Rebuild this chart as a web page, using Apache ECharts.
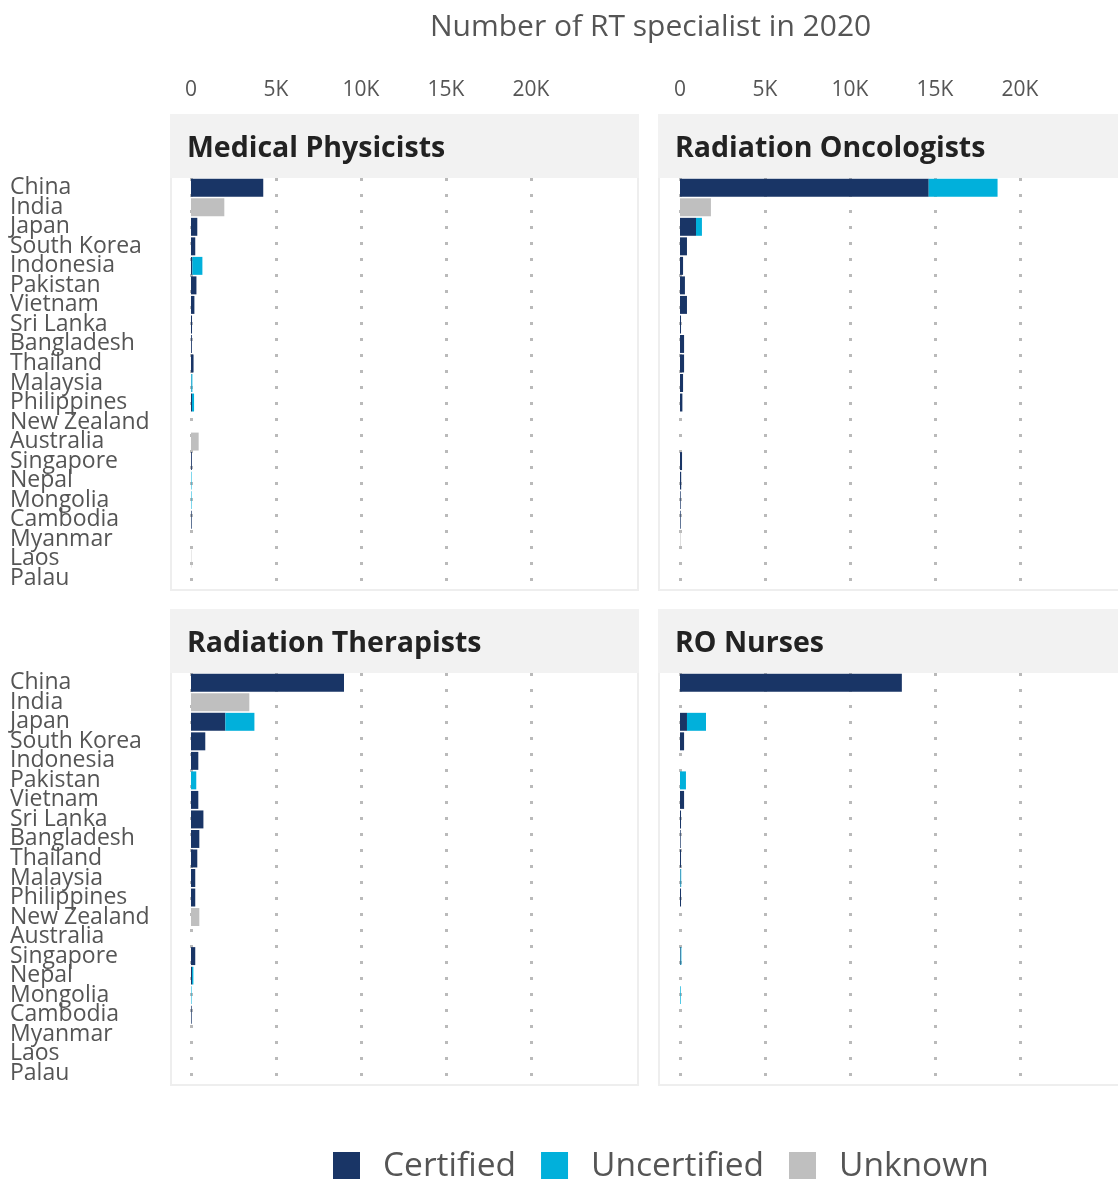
<!DOCTYPE html>
<html>
<head>
<meta charset="utf-8">
<script src="https://cdn.jsdelivr.net/npm/echarts@6/dist/echarts.min.js"></script>
<style>
  html, body { margin: 0; padding: 0; background: #fff; }
  #chart { width: 1118px; height: 1179px; }
</style>
</head>
<body>
<div id="chart"></div>
<script>
const countries = ['China', 'India', 'Japan', 'South Korea', 'Indonesia', 'Pakistan', 'Vietnam', 'Sri Lanka',
  'Bangladesh', 'Thailand', 'Malaysia', 'Philippines', 'New Zealand', 'Australia', 'Singapore', 'Nepal',
  'Mongolia', 'Cambodia', 'Myanmar', 'Laos', 'Palau']

const xTicks = [0, 5000, 10000, 15000, 20000]

// Medical Physicists
const mpCertified = [4250, 0, 370, 250, 80, 320, 200, 60, 50, 150, 20, 60, 0, 0, 50, 0, 0, 40, 0, 0, 0]
const mpUncertified = [0, 0, 0, 0, 590, 0, 0, 0, 0, 0, 60, 120, 0, 0, 0, 30, 30, 0, 0, 0, 0]
const mpUnknown = [0, 1960, 0, 0, 0, 0, 0, 0, 0, 0, 0, 0, 0, 450, 0, 0, 0, 0, 0, 20, 0]

// Radiation Oncologists
const roCertified = [14630, 0, 940, 410, 180, 290, 410, 60, 240, 240, 180, 140, 0, 0, 120, 70, 40, 40, 0, 0, 0]
const roUncertified = [4050, 0, 350, 0, 0, 0, 0, 0, 0, 0, 0, 0, 0, 0, 0, 0, 0, 0, 0, 0, 0]
const roUnknown = [0, 1820, 0, 0, 0, 0, 0, 0, 0, 0, 0, 0, 0, 0, 0, 0, 0, 0, 30, 0, 0]

// Radiation Therapists
const rtCertified = [9000, 0, 2020, 840, 430, 0, 430, 730, 490, 370, 250, 250, 0, 0, 250, 60, 0, 40, 0, 0, 0]
const rtUncertified = [0, 0, 1710, 0, 0, 310, 0, 0, 0, 0, 0, 0, 0, 0, 0, 80, 30, 0, 0, 0, 0]
const rtUnknown = [0, 3430, 0, 0, 0, 0, 0, 0, 0, 0, 0, 0, 490, 0, 0, 0, 0, 0, 0, 0, 0]

// RO Nurses
const rnCertified = [13050, 0, 410, 240, 0, 0, 240, 60, 40, 60, 30, 60, 0, 0, 40, 0, 0, 0, 0, 0, 0]
const rnUncertified = [0, 0, 1120, 0, 0, 350, 0, 0, 0, 0, 40, 0, 0, 0, 40, 0, 40, 0, 0, 0, 0]
const rnUnknown = [0, 0, 0, 0, 0, 0, 0, 0, 0, 0, 0, 0, 0, 0, 0, 0, 0, 0, 0, 0, 0]

const panels = [
  { title: 'Medical Physicists', stack: 'mp', data: [mpCertified, mpUncertified, mpUnknown] },
  { title: 'Radiation Oncologists', stack: 'ro', data: [roCertified, roUncertified, roUnknown] },
  { title: 'Radiation Therapists', stack: 'rt', data: [rtCertified, rtUncertified, rtUnknown] },
  { title: 'RO Nurses', stack: 'rn', data: [rnCertified, rnUncertified, rnUnknown] }
]
const seriesNames = ['Certified', 'Uncertified', 'Unknown']
const colors = ['#193566', '#01b0db', '#bfbfbf']

// panel frames (x, y of top-left corner)
const frames = [
  { x: 171, y: 115, w: 467 },
  { x: 659, y: 115, w: 470 },
  { x: 171, y: 610, w: 467 },
  { x: 659, y: 610, w: 470 }
]

const chart = echarts.init(document.getElementById('chart'))

const graphic = []
frames.forEach(f => {
  graphic.push({
    type: 'rect', z: -10,
    shape: { x: f.x, y: f.y, width: f.w, height: 475 },
    style: { fill: '#fff', stroke: '#eeeeee', lineWidth: 2 }
  })
  graphic.push({
    type: 'rect', z: -9,
    shape: { x: f.x - 1, y: f.y - 1, width: f.w + 2, height: 64 },
    style: { fill: '#f2f2f2' }
  })
})

const titles = [{
  text: 'Number of RT specialist in 2020',
  left: 425, top: 7,
  textStyle: { fontFamily: 'Open Sans', fontSize: 30, fontWeight: 'normal', color: '#555' }
}]
panels.forEach((p, i) => {
  titles.push({
    text: p.title,
    left: frames[i].x + 11,
    top: frames[i].y + 14,
    textStyle: { fontFamily: 'Open Sans', fontSize: 28.5, fontWeight: 'bold', color: '#222' }
  })
})

const grids = frames.map((f, i) => ({
  left: i % 2 === 0 ? 191 : 680,
  top: i < 2 ? 178 : 673,
  width: 425,
  height: 410
}))

const xAxes = grids.map((g, i) => ({
  type: 'value',
  gridIndex: i,
  position: 'top',
  min: 0,
  max: 25000,
  interval: 5000,
  axisLine: { show: false },
  axisTick: { show: false },
  axisLabel: {
    show: i < 2,
    margin: 77,
    showMaxLabel: false,
    fontFamily: 'Open Sans',
    fontSize: 21,
    color: '#555',
    formatter: v => xTicks.includes(v) ? (v === 0 ? '0' : v / 1000 + 'K') : ''
  },
  splitLine: {
    show: true,
    showMaxLine: false,
    lineStyle: { color: '#bababa', width: 3, type: [3, 13] }
  }
}))

const yAxes = grids.map((g, i) => ({
  type: 'category',
  gridIndex: i,
  data: countries,
  inverse: true,
  axisLine: { show: false },
  axisTick: { show: false },
  axisLabel: {
    show: i % 2 === 0,
    interval: 0,
    align: 'left',
    margin: 181,
    padding: [8, 0, 0, 0],
    fontFamily: 'Open Sans',
    fontSize: 23,
    color: '#555'
  }
}))

const series = []
panels.forEach((p, i) => {
  p.data.forEach((d, k) => {
    series.push({
      name: seriesNames[k],
      type: 'bar',
      stack: p.stack,
      xAxisIndex: i,
      yAxisIndex: i,
      barCategoryGap: '8%',
      itemStyle: { color: colors[k] },
      data: d
    })
  })
})

chart.setOption({
  animation: false,
  backgroundColor: '#fff',
  color: colors,
  title: titles,
  graphic: graphic,
  grid: grids,
  xAxis: xAxes,
  yAxis: yAxes,
  legend: {
    data: seriesNames,
    left: 328,
    top: 1144,
    icon: 'rect',
    itemWidth: 27,
    itemHeight: 28,
    itemGap: 25,
    textStyle: { fontFamily: 'Open Sans', fontSize: 33.5, color: '#555', padding: [0, 0, 0, 18] }
  },
  series: series
})
</script>
</body>
</html>
